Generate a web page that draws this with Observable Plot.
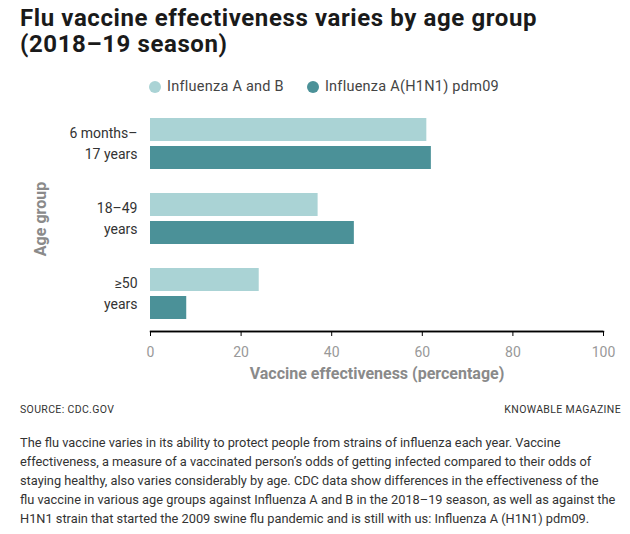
<!DOCTYPE html>
<html>
<head>
<meta charset="utf-8">
<script src="https://cdn.jsdelivr.net/npm/d3@7"></script>
<script src="https://cdn.jsdelivr.net/npm/@observablehq/plot@0.6"></script>
<style>
  html, body { margin: 0; padding: 0; background: #fff; }
  body { width: 630px; height: 534px; font-family: Roboto, "Noto Sans", sans-serif; }
  h1 { display: block; box-sizing: border-box; height: 78px; margin: 0; padding: 5px 0 0 20px; font-size: 24px; line-height: 26px; font-weight: 700; color: #1a1a1a; letter-spacing: 0.6px; }
  #legend { box-sizing: border-box; height: 22px; padding-left: 149px; font-size: 14.5px; line-height: 18px; letter-spacing: 0.25px; color: #444; display: flex; gap: 23px; }
  #legend span.item { display: flex; align-items: center; height: 18px; }
  #legend span.dot { width: 12px; height: 12px; border-radius: 50%; display: inline-block; margin-right: 6px; }
  #chart { height: 291px; }
  #foot { display: flex; justify-content: space-between; box-sizing: border-box; height: 14px; margin-top: 12px; padding: 0 9px 0 20px; font-size: 10.5px; line-height: 14px; color: #333; letter-spacing: 0.35px; }
  #body { margin: 16px 0 0 20px; font-size: 12.8px; line-height: 19px; color: #333; white-space: nowrap; }
</style>
</head>
<body>
<h1>Flu vaccine effectiveness varies by age group<br>(2018–19 season)</h1>
<div id="legend"></div>
<div id="chart"></div>
<div id="foot"><span>SOURCE: CDC.GOV</span><span>KNOWABLE MAGAZINE</span></div>
<p id="body">The flu vaccine varies in its ability to protect people from strains of influenza each year. Vaccine<br>effectiveness, a measure of a vaccinated person’s odds of getting infected compared to their odds of<br>staying healthy, also varies considerably by age. CDC data show differences in the effectiveness of the<br>flu vaccine in various age groups against Influenza A and B in the 2018–19 season, as well as against the<br>H1N1 strain that started the 2009 swine flu pandemic and is still with us: Influenza A (H1N1) pdm09.</p>
<script>
const ageGroups = ["6 months–\n17 years", "18–49\nyears", "≥50\nyears"];
const seriesNames = ["Influenza A and B", "Influenza A(H1N1) pdm09"];
const fluAB = [61, 37, 24];
const h1n1 = [62, 45, 8];
const xTicks = [0, 20, 40, 60, 80, 100];
const colors = ["#aad3d5", "#4b9198"];

const dataAB = ageGroups.map((g, i) => ({group: g, value: fluAB[i]}));
const dataH1 = ageGroups.map((g, i) => ({group: g, value: h1n1[i]}));

const legend = document.getElementById("legend");
seriesNames.forEach((s, i) => {
  const item = document.createElement("span");
  item.className = "item";
  item.innerHTML = `<span class="dot" style="background:${colors[i]}"></span>${s}`;
  legend.appendChild(item);
});

const barOpts = {y: "group", x: "value", insetTop: 26, insetBottom: 26};

const chart = Plot.plot({
  width: 630,
  height: 291,
  marginTop: 6,
  marginBottom: 60,
  marginLeft: 150,
  marginRight: 27,
  x: {domain: [0, 100]},
  y: {domain: ageGroups, padding: 0},
  marks: [
    Plot.barX(dataAB, {...barOpts, fill: colors[0], dy: -14}),
    Plot.barX(dataH1, {...barOpts, fill: colors[1], dy: 14}),
    Plot.ruleY([ageGroups[ageGroups.length - 1]], {x1: 0, x2: 100, dy: 37.5, stroke: "black", strokeWidth: 1.5}),
    Plot.frame({anchor: "bottom", stroke: "black", strokeWidth: 1.5}),
    Plot.axisX({
      ticks: xTicks, tickSize: 5, tickPadding: 11, fontSize: 14, stroke: "black",
      tickFormat: d => d,
      label: "Vaccine effectiveness (percentage)", labelAnchor: "center", labelOffset: 47,
      labelArrow: "none"
    }),
    Plot.axisY({
      anchor: "left", dy: -2,
      tickSize: 0, tickPadding: 13, fontSize: 14, lineHeight: 1.5,
      label: "Age group", labelAnchor: "center", labelOffset: 116, labelArrow: "none"
    })
  ]
});
chart.style.fontFamily = "Roboto, sans-serif";
document.getElementById("chart").appendChild(chart);

chart.querySelectorAll("g[aria-label='x-axis label'] text, g[aria-label='y-axis label'] text").forEach(t => {
  t.setAttribute("font-weight", "700");
  t.setAttribute("fill", "#8a8a8a");
  t.setAttribute("font-size", "16");
});
chart.querySelectorAll("g[aria-label='x-axis tick label']").forEach(g => g.setAttribute("fill", "#999"));
chart.querySelectorAll("g[aria-label='y-axis tick label']").forEach(g => g.setAttribute("fill", "#333"));
</script>
</body>
</html>
